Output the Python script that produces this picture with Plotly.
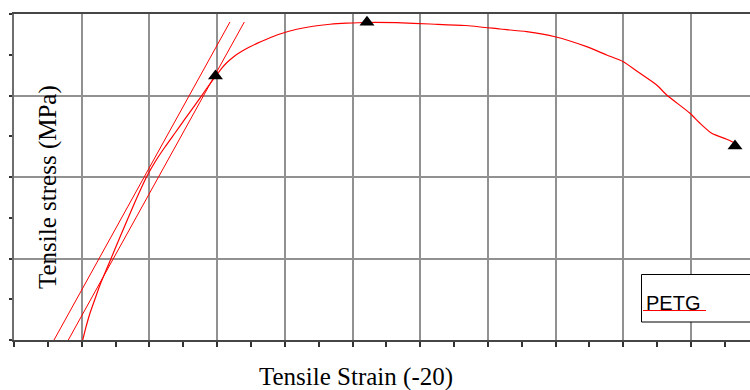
import plotly.graph_objects as go

# ---- data (strain in grid units, stress in MPa) ----
strain = [1.015, 1.064, 1.123, 1.196, 1.270, 1.418, 1.566, 1.787, 1.965, 2.083,
          2.230, 2.378, 2.526, 2.747, 2.866, 2.969, 3.058, 3.146, 3.250, 3.353,
          3.471, 3.589, 3.722, 3.929, 4.176, 4.417, 4.668, 4.914, 5.214, 5.653,
          6.145, 6.662, 7.179, 7.573, 7.991, 8.459, 8.755, 9.000, 9.247, 9.493,
          9.641, 9.985, 10.133, 10.306, 10.527, 10.650]
stress = [0.0, 1.60, 3.31, 5.03, 6.75, 9.69, 12.64, 16.93, 20.12, 21.84,
          23.68, 25.40, 27.12, 29.69, 31.10, 32.27, 33.25, 34.05, 34.79, 35.36,
          35.91, 36.40, 36.88, 37.55, 38.13, 38.50, 38.74, 38.87, 38.96, 38.93,
          38.77, 38.59, 38.16, 37.83, 37.21, 35.99, 34.97, 34.15, 32.72, 31.29,
          30.06, 27.82, 26.59, 25.36, 24.63, 24.17]

# modulus construction lines
lineA_x = [0.591, 3.190]
lineA_y = [0.0, 39.02]
lineB_x = [0.802, 3.402]
lineB_y = [0.0, 39.02]

# characteristic points: yield, maximum, break
mark_x = [2.976, 5.214, 10.650]
mark_y = [32.4, 38.98, 23.8]

legend_label = "PETG"
x_title = "Tensile Strain (-20)"
y_title = "Tensile stress (MPa)"

RED = "rgb(255,0,0)"
SERIF = "Liberation Serif, Times New Roman, serif"

fig = go.Figure()
for xs, ys in [(lineA_x, lineA_y), (lineB_x, lineB_y)]:
    fig.add_trace(go.Scatter(x=xs, y=ys, mode="lines",
                             line=dict(color=RED, width=1), showlegend=False,
                             hoverinfo="skip"))
fig.add_trace(go.Scatter(x=strain, y=stress, mode="lines",
                         line=dict(color=RED, width=1.2, shape="spline", smoothing=0.6),
                         showlegend=False))
fig.add_trace(go.Scatter(x=mark_x, y=mark_y, mode="markers",
                         marker=dict(symbol="triangle-up", size=13, color="black"),
                         showlegend=False))

W, H = 750, 390
L, R, T, B = 14, 0, 14, 50
pw = W - L - R
ph = H - T - B
unit_x = 67.7
xmax = pw / unit_x

def px_to_paper_x(px):
    return (px - L) / pw

def px_to_paper_y(py):
    return (H - B - py) / ph

fig.update_layout(
    width=W, height=H,
    margin=dict(l=L, r=R, t=T, b=B),
    paper_bgcolor="white", plot_bgcolor="white",
    showlegend=False,
    xaxis=dict(range=[0, xmax], dtick=1, tick0=0, showticklabels=False,
               showgrid=True, gridcolor="rgb(145,145,145)", gridwidth=1.5,
               zeroline=False, showline=True, linecolor="rgb(70,70,70)",
               linewidth=2, mirror=True,
               ticks="outside", ticklen=5, tickcolor="rgb(50,50,50)", tickwidth=1.5,
               minor=dict(dtick=0.5, ticks="outside", ticklen=5,
                          tickcolor="rgb(50,50,50)", tickwidth=1.5, showgrid=False)),
    yaxis=dict(range=[0, 40], dtick=10, tick0=0, showticklabels=False,
               showgrid=True, gridcolor="rgb(145,145,145)", gridwidth=1.5,
               zeroline=False, showline=True, linecolor="rgb(110,110,110)",
               linewidth=2,
               ticks="outside", ticklen=3, tickcolor="rgb(50,50,50)", tickwidth=1.5,
               minor=dict(dtick=5, ticks="outside", ticklen=3,
                          tickcolor="rgb(50,50,50)", tickwidth=1.5, showgrid=False)),
)

# axis titles as annotations (positioned like the reference)
fig.add_annotation(text=x_title, xref="paper", yref="paper",
                   x=px_to_paper_x(356), y=px_to_paper_y(377),
                   xanchor="center", yanchor="middle", showarrow=False,
                   font=dict(family=SERIF, size=25, color="black"))
fig.add_annotation(text=y_title, xref="paper", yref="paper",
                   x=px_to_paper_x(48.5), y=px_to_paper_y(187.5),
                   xanchor="center", yanchor="middle", textangle=-90,
                   showarrow=False,
                   font=dict(family=SERIF, size=25, color="black"))

# legend box
fig.add_shape(type="rect", xref="paper", yref="paper",
              x0=px_to_paper_x(641.5), x1=px_to_paper_x(760),
              y0=px_to_paper_y(322), y1=px_to_paper_y(274.5),
              line=dict(color="black", width=1), fillcolor="white", layer="above")
fig.add_annotation(text=legend_label, xref="paper", yref="paper",
                   x=px_to_paper_x(643.5), y=px_to_paper_y(302.5),
                   xanchor="left", yanchor="middle", showarrow=False,
                   font=dict(family="Liberation Sans, Arial, sans-serif", size=20,
                             color="black"))
fig.add_shape(type="line", xref="paper", yref="paper",
              x0=px_to_paper_x(643), x1=px_to_paper_x(706),
              y0=px_to_paper_y(310.5), y1=px_to_paper_y(310.5),
              line=dict(color=RED, width=1), layer="above")

fig.write_html("out.html")
